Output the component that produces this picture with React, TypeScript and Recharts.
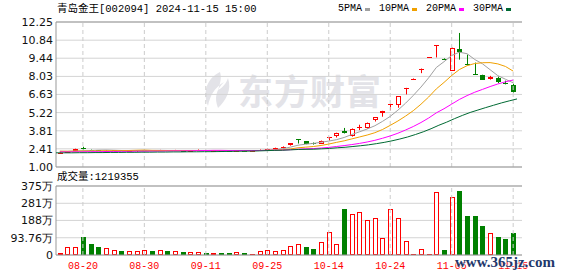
import React from 'react';
import {
    ComposedChart,
    Bar,
    Line,
    XAxis,
    YAxis,
    CartesianGrid,
    ReferenceLine
} from 'recharts';

const dates = [
    '08-15', '08-16', '08-19', '08-20', '08-21', '08-22', '08-23', '08-26', '08-27', '08-28',
    '08-29', '08-30', '09-02', '09-03', '09-04', '09-05', '09-06', '09-09', '09-10', '09-11',
    '09-12', '09-13', '09-18', '09-19', '09-20', '09-23', '09-24', '09-25', '09-26', '09-27',
    '09-30', '10-08', '10-09', '10-10', '10-11', '10-14', '10-15', '10-16', '10-17', '10-18',
    '10-21', '10-22', '10-23', '10-24', '10-25', '10-28', '10-29', '10-30', '10-31', '11-01',
    '11-04', '11-05', '11-06', '11-07', '11-08', '11-11', '11-12', '11-13', '11-14', '11-15'
];

const open = [
    2.09, 2.12, 2.23, 2.49, 2.33, 2.29, 2.26, 2.28, 2.30, 2.27,
    2.27, 2.28, 2.30, 2.27, 2.29, 2.27, 2.28, 2.26, 2.27, 2.29,
    2.27, 2.28, 2.26, 2.25, 2.27, 2.26, 2.31, 2.39, 2.47, 2.47,
    2.67, 3.14, 2.98, 2.86, 2.82, 3.30, 3.42, 3.76, 3.38, 4.05,
    4.04, 4.67, 5.20, 5.80, 5.82, 7.12, 7.85, 8.62, 9.50, 10.43,
    9.41, 8.47, 10.13, 8.98, 8.24, 8.16, 7.80, 7.90, 7.53, 7.36
];
const high = [
    2.13, 2.21, 2.42, 2.57, 2.35, 2.30, 2.29, 2.31, 2.31, 2.29,
    2.30, 2.31, 2.30, 2.33, 2.29, 2.33, 2.29, 2.28, 2.36, 2.30,
    2.29, 2.28, 2.27, 2.28, 2.27, 2.27, 2.36, 2.42, 2.50, 2.60,
    2.85, 3.14, 3.00, 2.90, 3.05, 3.33, 3.66, 4.03, 3.99, 4.28,
    4.45, 4.87, 5.36, 5.90, 6.49, 7.14, 7.85, 8.64, 9.50, 10.45,
    9.41, 10.26, 11.40, 9.72, 9.10, 8.16, 8.07, 8.01, 7.70, 7.46
];
const low = [
    2.07, 2.11, 2.21, 2.36, 2.26, 2.25, 2.25, 2.27, 2.26, 2.26,
    2.17, 2.27, 2.26, 2.26, 2.26, 2.26, 2.25, 2.25, 2.26, 2.26,
    2.26, 2.25, 2.24, 2.24, 2.24, 2.26, 2.30, 2.38, 2.34, 2.46,
    2.66, 2.82, 2.77, 2.74, 2.80, 3.06, 3.29, 3.60, 3.36, 3.86,
    3.98, 4.53, 4.90, 5.40, 5.60, 6.63, 7.85, 8.28, 9.50, 9.50,
    9.41, 8.47, 9.33, 8.89, 8.18, 7.77, 7.78, 7.51, 7.41, 6.78
];
const close = [
    2.11, 2.20, 2.41, 2.38, 2.28, 2.26, 2.28, 2.30, 2.27, 2.28,
    2.29, 2.30, 2.27, 2.29, 2.27, 2.29, 2.26, 2.27, 2.30, 2.27,
    2.28, 2.26, 2.25, 2.27, 2.25, 2.27, 2.35, 2.41, 2.49, 2.59,
    2.85, 3.13, 2.80, 2.78, 3.03, 3.33, 3.66, 3.63, 3.97, 4.08,
    4.43, 4.87, 5.36, 5.90, 6.49, 7.14, 7.85, 8.64, 9.50, 10.45,
    9.41, 10.26, 9.92, 8.92, 8.20, 7.77, 7.95, 7.62, 7.50, 6.81
];

// 成交量, 万
const volume = [
    10.9, 41.7, 41.7, 99.7, 59.8, 43.5, 36.2, 27.2, 21.7, 21.7,
    21.7, 25.4, 21.7, 25.4, 21.7, 21.7, 18.1, 16.3, 16.3, 10.9,
    9.1, 10.9, 10.9, 14.5, 10.9, 3.6, 19.9, 27.2, 19.9, 27.2,
    47.1, 59.8, 43.5, 32.6, 70.7, 125, 59.8, 250, 223, 232,
    188, 199, 90.6, 248, 199, 76.1, 3.6, 30.8, 3.6, 341,
    27.2, 313, 348, 212, 212, 158, 120, 97.8, 87, 121.94
];

const ma5 = [
    2.22, 2.21, 2.24, 2.26, 2.28, 2.31, 2.32, 2.30, 2.28, 2.28,
    2.28, 2.29, 2.28, 2.29, 2.28, 2.28, 2.28, 2.28, 2.28, 2.28,
    2.28, 2.28, 2.27, 2.27, 2.26, 2.26, 2.28, 2.31, 2.35, 2.42,
    2.54, 2.69, 2.77, 2.83, 2.92, 3.01, 3.12, 3.29, 3.52, 3.73,
    3.95, 4.20, 4.54, 4.93, 5.41, 5.95, 6.55, 7.20, 7.92, 8.72,
    9.17, 9.65, 9.91, 9.79, 9.34, 9.01, 8.55, 8.09, 7.81, 7.53
];
const ma10 = [
    2.22, 2.22, 2.23, 2.24, 2.24, 2.25, 2.26, 2.26, 2.27, 2.28,
    2.30, 2.31, 2.29, 2.28, 2.28, 2.28, 2.28, 2.28, 2.28, 2.28,
    2.28, 2.28, 2.27, 2.27, 2.27, 2.27, 2.28, 2.29, 2.31, 2.34,
    2.40, 2.49, 2.54, 2.59, 2.67, 2.78, 2.91, 3.03, 3.18, 3.33,
    3.48, 3.66, 3.91, 4.23, 4.57, 4.95, 5.37, 5.87, 6.43, 7.06,
    7.56, 8.10, 8.56, 8.86, 9.03, 9.09, 9.10, 9.00, 8.80, 8.44
];
const ma20 = [
    2.17, 2.17, 2.18, 2.18, 2.19, 2.19, 2.20, 2.20, 2.21, 2.21,
    2.22, 2.22, 2.23, 2.23, 2.24, 2.25, 2.25, 2.26, 2.27, 2.28,
    2.29, 2.29, 2.28, 2.28, 2.28, 2.28, 2.28, 2.29, 2.30, 2.31,
    2.34, 2.38, 2.41, 2.43, 2.47, 2.52, 2.59, 2.66, 2.74, 2.83,
    2.94, 3.07, 3.23, 3.41, 3.62, 3.87, 4.14, 4.45, 4.80, 5.20,
    5.52, 5.88, 6.24, 6.54, 6.80, 7.02, 7.24, 7.44, 7.61, 7.75
];
const ma30 = [
    2.10, 2.10, 2.10, 2.11, 2.11, 2.12, 2.12, 2.13, 2.13, 2.14,
    2.14, 2.15, 2.15, 2.16, 2.16, 2.17, 2.17, 2.18, 2.18, 2.19,
    2.19, 2.20, 2.21, 2.22, 2.23, 2.24, 2.25, 2.27, 2.29, 2.30,
    2.33, 2.36, 2.37, 2.38, 2.41, 2.44, 2.49, 2.53, 2.59, 2.65,
    2.72, 2.81, 2.91, 3.03, 3.17, 3.33, 3.52, 3.73, 3.97, 4.24,
    4.48, 4.75, 5.00, 5.23, 5.42, 5.61, 5.79, 5.97, 6.13, 6.28
];

const priceTicks = [1.0, 2.41, 3.81, 5.22, 6.63, 8.03, 9.44, 10.84, 12.25];
const innerPriceTicks = priceTicks.slice(1, -1);
const edgePriceTicks = [priceTicks[0], priceTicks[priceTicks.length - 1]];
const volTicks = [0, 93.76, 188, 281, 375];
const volTickLabels = ['0', '93.76万', '188万', '281万', '375万'];
const dateTicks = ['08-20', '08-30', '09-11', '09-25', '10-14', '10-24', '11-05', '11-15'];

const legend = [
    { label: '5PMA', color: '#a0a0a0' },
    { label: '10PMA', color: '#f0a000' },
    { label: '20PMA', color: '#ff00ff' },
    { label: '30PMA', color: '#006a33' }
];

const UP = '#ff0000';
const DOWN = '#008000';
const BORDER = '#999999';
const GRID = '#d4d4d4';
const AXIS_FONT = '"DejaVu Sans", sans-serif';
const MONO = '"Liberation Mono", "Noto Sans CJK SC", monospace';

const rows = dates.map((date, i) => {
    const prev = i > 0 ? close[i - 1] : open[i];
    const hi = high[i] > low[i] ? high[i] : low[i] + 0.02;
    return {
        date,
        o: open[i],
        h: hi,
        l: low[i],
        c: close[i],
        range: [low[i], hi],
        up: close[i] > open[i] || (close[i] === open[i] && close[i] >= prev),
        vol: volume[i],
        volUp: close[i] >= prev,
        ma5: ma5[i],
        ma10: ma10[i],
        ma20: ma20[i],
        ma30: ma30[i]
    };
});

function Candle(props: any) {
    const { x, y, width, height, payload } = props;
    if (x == null || y == null || !payload) return null;
    const top = Math.min(y, y + height);
    const span = Math.abs(height);
    const k = span / (payload.h - payload.l);
    const py = (v: number) => top + (payload.h - v) * k;
    const cx = Math.round(x + width / 2) + 0.5;
    const color = payload.up ? UP : DOWN;
    const yH = py(payload.h);
    const yL = py(payload.l);
    let bTop = Math.round(Math.min(py(payload.o), py(payload.c)));
    let bBot = Math.round(Math.max(py(payload.o), py(payload.c)));
    if (bBot - bTop < 1) bBot = bTop + 1;
    const hollow = payload.up && bBot - bTop >= 3;
    return (
        <g>
            {yH < bTop && <line x1={cx} x2={cx} y1={yH} y2={bTop} stroke={color} strokeWidth={1} />}
            {yL > bBot && <line x1={cx} x2={cx} y1={bBot} y2={yL} stroke={color} strokeWidth={1} />}
            {hollow ? (
                <rect x={cx - 2} y={bTop + 0.5} width={4} height={bBot - bTop - 1} fill="#fff" stroke={color} strokeWidth={1} />
            ) : (
                <rect x={cx - 2.5} y={bTop} width={5} height={bBot - bTop} fill={color} />
            )}
        </g>
    );
}

function VolBar(props: any) {
    const { x, y, width, height, payload } = props;
    if (x == null || y == null || !payload) return null;
    const cx = Math.round(x + width / 2) + 0.5;
    const bot = Math.round(y + height);
    let top = Math.round(y);
    if (bot - top < 1) top = bot - 1;
    if (payload.volUp && bot - top >= 3) {
        return <rect x={cx - 2} y={top + 0.5} width={4} height={bot - top - 1} fill="#fff" stroke={UP} strokeWidth={1} />;
    }
    return <rect x={cx - 2.5} y={top} width={5} height={bot - top} fill={payload.volUp ? UP : DOWN} />;
}

function AxisLabel(props: any, label: string) {
    return (
        <text x={props.x} y={props.y} dy="0.355em" textAnchor="end" fill="#111" fontSize={11} fontFamily={AXIS_FONT}>
            {label}
        </text>
    );
}

const PriceTick = (props: any) => AxisLabel(props, Number(props.payload.value).toFixed(2));
const InnerPriceTick = (props: any) =>
    innerPriceTicks.includes(props.payload.value) ? PriceTick(props) : <g />;
const VolTick = (props: any) => {
    const idx = volTicks.indexOf(props.payload.value);
    return AxisLabel(props, idx >= 0 ? volTickLabels[idx] : String(props.payload.value));
};

const xPad = { left: 0, right: 5 };
const priceMargin = { top: 22, right: 56, bottom: 11, left: 0 };

export default function App() {
    return (
        <div style={{ position: 'fixed', left: 0, top: 0, width: 578, height: 276, background: '#fff' }}>
            {/* watermark */}
            <div style={{ position: 'absolute', left: 198, top: 70, display: 'flex', alignItems: 'center', color: '#e3e3e8' }}>
                <svg width={36} height={40} viewBox="0 0 36 40">
                    <path d="M22 2 C10 8 4 20 10 36 C12 26 16 18 26 12 C18 20 16 28 20 38 C28 30 34 20 30 8 C28 14 24 18 20 20 C22 14 24 8 22 2 Z" fill="#e3e3e8" />
                </svg>
                <span style={{ fontFamily: '"Noto Sans CJK SC", sans-serif', fontWeight: 700, fontSize: 35, lineHeight: '40px', marginLeft: 4, letterSpacing: 1 }}>东方财富</span>
            </div>

            <div style={{ position: 'absolute', left: 0, top: 0 }}>
                <ComposedChart width={578} height={178} data={rows} margin={priceMargin}>
                    <CartesianGrid vertical={false} stroke={GRID} />
                    {dateTicks.map(d => (
                        <ReferenceLine key={d} x={d} stroke="#cccccc" strokeDasharray="4 3" />
                    ))}
                    <ReferenceLine y={12.25} stroke={BORDER} />
                    <ReferenceLine y={1} stroke={BORDER} />
                    <XAxis dataKey="date" hide padding={xPad} />
                    <YAxis
                        type="number"
                        domain={[1, 12.25]}
                        ticks={priceTicks}
                        interval={0}
                        width={56}
                        tickSize={0}
                        tickMargin={3}
                        axisLine={{ stroke: BORDER }}
                        tickLine={false}
                        tick={InnerPriceTick}
                    />
                    <YAxis yAxisId="r" orientation="right" width={0} domain={[0, 1]} tick={false} tickLine={false} axisLine={{ stroke: BORDER }} />
                    <Bar dataKey="range" shape={Candle} isAnimationActive={false} />
                    <Line dataKey="ma5" stroke="#a0a0a0" strokeWidth={1} dot={false} activeDot={false} isAnimationActive={false} />
                    <Line dataKey="ma10" stroke="#f0a000" strokeWidth={1} dot={false} activeDot={false} isAnimationActive={false} />
                    <Line dataKey="ma20" stroke="#ff00ff" strokeWidth={1} dot={false} activeDot={false} isAnimationActive={false} />
                </ComposedChart>
            </div>

            <div style={{ position: 'absolute', left: 0, top: 176 }}>
                <ComposedChart width={578} height={100} data={rows} margin={{ top: 10, right: 56, bottom: 0, left: 0 }}>
                    <CartesianGrid vertical={false} stroke={GRID} />
                    {dateTicks.map(d => (
                        <ReferenceLine key={d} x={d} stroke="#cccccc" strokeDasharray="4 3" />
                    ))}
                    <ReferenceLine y={375} stroke={BORDER} />
                    <XAxis
                        dataKey="date"
                        ticks={dateTicks}
                        interval={0}
                        padding={xPad}
                        height={21}
                        tickSize={0}
                        tickMargin={7}
                        axisLine={{ stroke: BORDER }}
                        tickLine={false}
                        tick={{ fill: UP, fontSize: 10, fontFamily: MONO }}
                    />
                    <YAxis
                        type="number"
                        domain={[0, 375]}
                        ticks={volTicks}
                        interval={0}
                        width={56}
                        tickSize={0}
                        tickMargin={3}
                        axisLine={{ stroke: BORDER }}
                        tickLine={false}
                        tick={VolTick}
                    />
                    <YAxis yAxisId="r" orientation="right" width={0} domain={[0, 1]} tick={false} tickLine={false} axisLine={{ stroke: BORDER }} />
                    <Bar dataKey="vol" shape={VolBar} isAnimationActive={false} />
                </ComposedChart>
            </div>

            {/* title + legend */}
            <div style={{ position: 'absolute', left: 57, top: 2, fontFamily: MONO, fontSize: 10.5, lineHeight: '14px', color: '#000', whiteSpace: 'nowrap' }}>
                青岛金王[002094] 2024-11-15 15:00
            </div>
            <div style={{ position: 'absolute', left: 338, top: 2, display: 'flex', alignItems: 'center', fontFamily: MONO, fontSize: 10, lineHeight: '14px', color: '#000' }}>
                {legend.map(item => (
                    <span key={item.label} style={{ display: 'flex', alignItems: 'center', marginRight: 9 }}>
                        <span>{item.label}</span>
                        <span style={{ display: 'inline-block', width: 5, height: 3, background: item.color, marginLeft: 3 }} />
                    </span>
                ))}
            </div>
            <div style={{ position: 'absolute', left: 57, top: 170, fontFamily: MONO, fontSize: 10.5, lineHeight: '14px', color: '#000', whiteSpace: 'nowrap' }}>
                成交量:1219355
            </div>
            <div style={{ position: 'absolute', left: 455, top: 254, fontFamily: '"Liberation Serif", serif', fontSize: 15, fontWeight: 700, color: '#23386b', textShadow: '0 0 2px #fff, 0 0 2px #fff', whiteSpace: 'nowrap' }}>
                www.365jz.com
            </div>

            {/* 30PMA series drawn on a top layer that also carries the end labels of the price axis */}
            <div style={{ position: 'absolute', left: 0, top: 0, pointerEvents: 'none' }}>
                <ComposedChart width={578} height={178} data={rows} margin={priceMargin}>
                    <XAxis dataKey="date" hide padding={xPad} />
                    <YAxis
                        type="number"
                        domain={[1, 12.25]}
                        ticks={edgePriceTicks}
                        interval={0}
                        width={56}
                        tickSize={0}
                        tickMargin={3}
                        axisLine={false}
                        tickLine={false}
                        tick={PriceTick}
                    />
                    <Line dataKey="ma30" stroke="#006a33" strokeWidth={1} dot={false} activeDot={false} isAnimationActive={false} />
                </ComposedChart>
            </div>
        </div>
    );
}
